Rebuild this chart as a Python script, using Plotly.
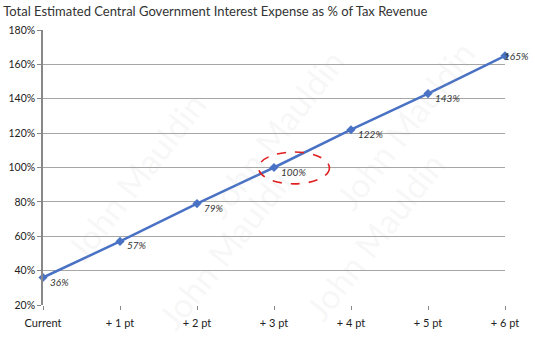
import plotly.graph_objects as go

categories = ["Current", "+ 1 pt", "+ 2 pt", "+ 3 pt", "+ 4 pt", "+ 5 pt", "+ 6 pt"]
values = [36, 57, 79, 100, 122, 143, 165]
labels = ["36%", "57%", "79%", "100%", "122%", "143%", "165%"]
y_ticks = [20, 40, 60, 80, 100, 120, 140, 160, 180]
y_tick_text = ["20%", "40%", "60%", "80%", "100%", "120%", "140%", "160%", "180%"]
watermark = "John Mauldin"

xs = list(range(len(categories)))
FONT = "Lato, sans-serif"

fig = go.Figure()
fig.add_trace(go.Scatter(
    x=xs, y=values, mode="lines+markers",
    line=dict(color="#4a72c4", width=2.5),
    marker=dict(symbol="diamond", size=7, color="#4a72c4"),
    hoverinfo="skip", showlegend=False, cliponaxis=False,
))

for i, (v, t) in enumerate(zip(values, labels)):
    last = i == len(values) - 1
    fig.add_annotation(x=xs[i], y=v, text="<i>" + t + "</i>", showarrow=False,
                       xanchor="left", yanchor="middle",
                       xshift=-3 if last else 5, yshift=0 if last else -4,
                       font=dict(family=FONT, size=10, color="#333333"))

# faint watermark
wm_positions = [(1.2, 95), (3.0, 120), (4.7, 125), (2.4, 55), (4.3, 60)]
for (wx, wy) in wm_positions:
    fig.add_annotation(x=wx, y=wy, text=watermark, showarrow=False, textangle=-52,
                       font=dict(family=FONT, size=34, color="rgba(170,170,170,0.10)"))

# dashed ellipse highlighting the +3 pt point
hi = 3
fig.add_shape(type="circle", xref="x", yref="y",
              x0=xs[hi] - 0.2, x1=xs[hi] + 0.72, y0=values[hi] - 9.5, y1=values[hi] + 9,
              line=dict(color="#e02020", width=1.6, dash="dash"))

fig.update_layout(
    width=535, height=338,
    margin=dict(l=43, r=30, t=30, b=33),
    paper_bgcolor="white", plot_bgcolor="white",
    title=dict(text="Total Estimated Central Government Interest Expense as % of Tax Revenue",
               x=0.006, xanchor="left", y=0.965, yanchor="middle",
               font=dict(family=FONT, size=13, color="#333333")),
    xaxis=dict(range=[0, 6], tickvals=xs, ticktext=categories, showgrid=False,
               showline=False, zeroline=False, ticks="outside", ticklen=4, tickcolor="#888888",
               ticklabelstandoff=4, automargin=False,
               tickfont=dict(family=FONT, size=11, color="#222222")),
    yaxis=dict(range=[20, 180], tickvals=y_ticks, ticktext=y_tick_text,
               showgrid=True, gridcolor="#a6a6a6", gridwidth=1.3,
               showline=True, linecolor="#888888", linewidth=1.5, zeroline=False,
               ticks="outside", ticklen=4, tickcolor="#888888", automargin=False,
               tickfont=dict(family=FONT, size=10.5, color="#222222")),
)

fig.write_html("out.html")
